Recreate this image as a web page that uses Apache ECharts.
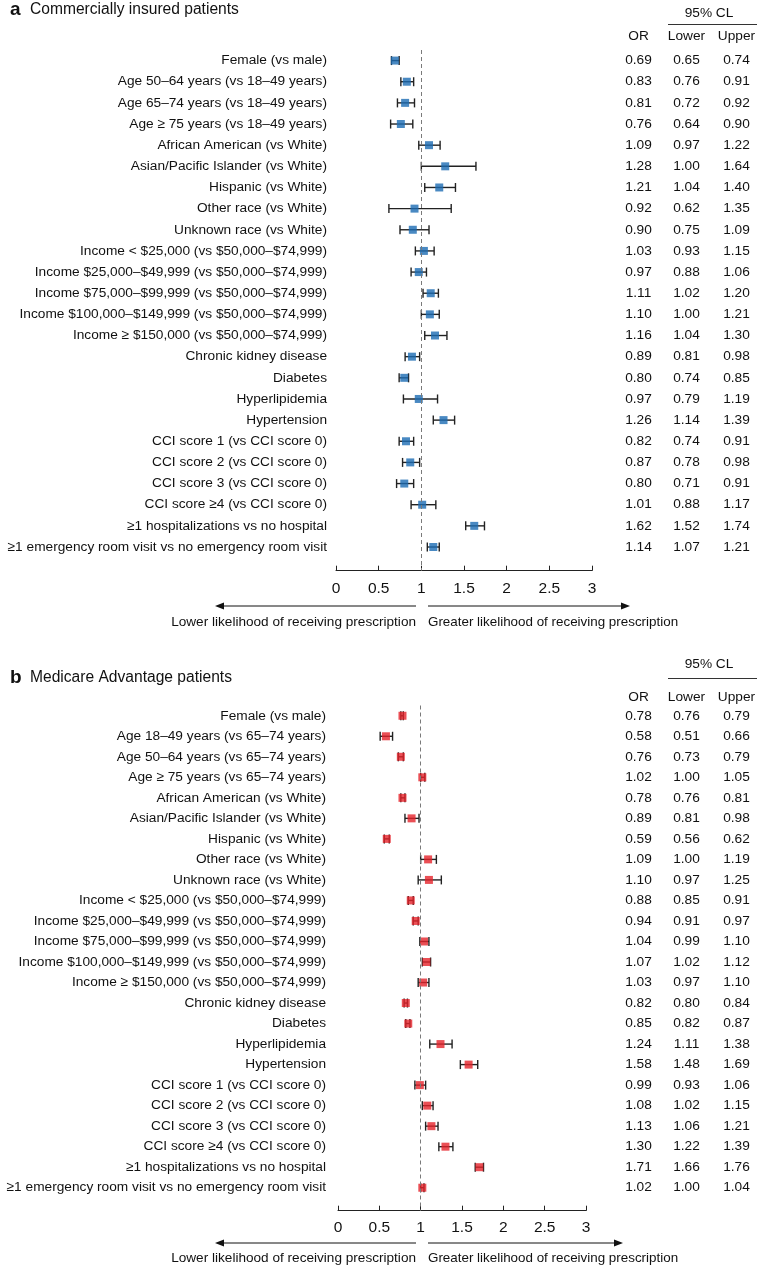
<!DOCTYPE html>
<html>
<head>
<meta charset="utf-8">
<script src="https://cdn.jsdelivr.net/npm/echarts@6/dist/echarts.min.js"></script>
<style>
html,body{margin:0;padding:0;background:#fff;}
#chart{width:758px;height:1270px;}
</style>
</head>
<body>
<div id="chart"></div>
<script>
// ---------- DATA ----------
var categoriesA = [
  'Female (vs male)',
  'Age 50\u201364 years (vs 18\u201349 years)',
  'Age 65\u201374 years (vs 18\u201349 years)',
  'Age \u2265 75 years (vs 18\u201349 years)',
  'African American (vs White)',
  'Asian/Pacific Islander (vs White)',
  'Hispanic (vs White)',
  'Other race (vs White)',
  'Unknown race (vs White)',
  'Income < $25,000 (vs $50,000\u2013$74,999)',
  'Income $25,000\u2013$49,999 (vs $50,000\u2013$74,999)',
  'Income $75,000\u2013$99,999 (vs $50,000\u2013$74,999)',
  'Income $100,000\u2013$149,999 (vs $50,000\u2013$74,999)',
  'Income \u2265 $150,000 (vs $50,000\u2013$74,999)',
  'Chronic kidney disease',
  'Diabetes',
  'Hyperlipidemia',
  'Hypertension',
  'CCI score 1 (vs CCI score 0)',
  'CCI score 2 (vs CCI score 0)',
  'CCI score 3 (vs CCI score 0)',
  'CCI score \u22654 (vs CCI score 0)',
  '\u22651 hospitalizations vs no hospital',
  '\u22651 emergency room visit vs no emergency room visit'
];
var orA    = [0.69,0.83,0.81,0.76,1.09,1.28,1.21,0.92,0.90,1.03,0.97,1.11,1.10,1.16,0.89,0.80,0.97,1.26,0.82,0.87,0.80,1.01,1.62,1.14];
var lowerA = [0.65,0.76,0.72,0.64,0.97,1.00,1.04,0.62,0.75,0.93,0.88,1.02,1.00,1.04,0.81,0.74,0.79,1.14,0.74,0.78,0.71,0.88,1.52,1.07];
var upperA = [0.74,0.91,0.92,0.90,1.22,1.64,1.40,1.35,1.09,1.15,1.06,1.20,1.21,1.30,0.98,0.85,1.19,1.39,0.91,0.98,0.91,1.17,1.74,1.21];

var categoriesB = [
  'Female (vs male)',
  'Age 18\u201349 years (vs 65\u201374 years)',
  'Age 50\u201364 years (vs 65\u201374 years)',
  'Age \u2265 75 years (vs 65\u201374 years)',
  'African American (vs White)',
  'Asian/Pacific Islander (vs White)',
  'Hispanic (vs White)',
  'Other race (vs White)',
  'Unknown race (vs White)',
  'Income < $25,000 (vs $50,000\u2013$74,999)',
  'Income $25,000\u2013$49,999 (vs $50,000\u2013$74,999)',
  'Income $75,000\u2013$99,999 (vs $50,000\u2013$74,999)',
  'Income $100,000\u2013$149,999 (vs $50,000\u2013$74,999)',
  'Income \u2265 $150,000 (vs $50,000\u2013$74,999)',
  'Chronic kidney disease',
  'Diabetes',
  'Hyperlipidemia',
  'Hypertension',
  'CCI score 1 (vs CCI score 0)',
  'CCI score 2 (vs CCI score 0)',
  'CCI score 3 (vs CCI score 0)',
  'CCI score \u22654 (vs CCI score 0)',
  '\u22651 hospitalizations vs no hospital',
  '\u22651 emergency room visit vs no emergency room visit'
];
var orB    = [0.78,0.58,0.76,1.02,0.78,0.89,0.59,1.09,1.10,0.88,0.94,1.04,1.07,1.03,0.82,0.85,1.24,1.58,0.99,1.08,1.13,1.30,1.71,1.02];
var lowerB = [0.76,0.51,0.73,1.00,0.76,0.81,0.56,1.00,0.97,0.85,0.91,0.99,1.02,0.97,0.80,0.82,1.11,1.48,0.93,1.02,1.06,1.22,1.66,1.00];
var upperB = [0.79,0.66,0.79,1.05,0.81,0.98,0.62,1.19,1.25,0.91,0.97,1.10,1.12,1.10,0.84,0.87,1.38,1.69,1.06,1.15,1.21,1.39,1.76,1.04];

var titleA = 'Commercially insured patients';
var titleB = 'Medicare Advantage patients';
var tableHeaders = ['OR', 'Lower', 'Upper'];
var clHeader = '95% CL';
var lowerLabel = 'Lower likelihood of receiving prescription';
var greaterLabel = 'Greater likelihood of receiving prescription';
var refValue = 1;

// ---------- STYLE / LAYOUT ----------
var FONT = '"Liberation Sans", Arial, Helvetica, sans-serif';
var FS = '13.7px ';
var TXT = '#111111';
var colX = [638.5, 686.5, 736.5];
var YMAX = 24.12;

function buildPanel(idx, cats, ors, los, his, color, top, height, left, right, labelMargin, rowLabelGap) {
  var grid = {left: left, right: right, top: top, height: height, containLabel: false};
  var xAxis = {
    gridIndex: idx, type: 'value', min: 0, max: 3, interval: 0.5, position: 'bottom',
    axisLine: {show: true, onZero: false, lineStyle: {color: '#222', width: 1}},
    axisTick: {show: true, inside: true, length: 5, lineStyle: {color: '#222'}},
    splitLine: {show: false},
    axisLabel: {color: TXT, fontSize: 15.5, fontFamily: FONT, margin: labelMargin}
  };
  var yAxis = {gridIndex: idx, type: 'value', inverse: true, min: -0.5, max: YMAX, show: false};

  var series = [];
  // error bars
  series.push({
    type: 'custom', xAxisIndex: idx, yAxisIndex: idx, silent: true, z: 2,
    data: cats.map(function (c, i) { return [los[i], his[i], i]; }),
    renderItem: function (params, api) {
      var p1 = api.coord([api.value(0), api.value(2)]);
      var p2 = api.coord([api.value(1), api.value(2)]);
      var h = 4.5;
      var st = {stroke: '#222', lineWidth: 1.4};
      return {type: 'group', children: [
        {type: 'line', shape: {x1: p1[0], y1: p1[1], x2: p2[0], y2: p2[1]}, style: st},
        {type: 'line', shape: {x1: p1[0], y1: p1[1] - h, x2: p1[0], y2: p1[1] + h}, style: st},
        {type: 'line', shape: {x1: p2[0], y1: p2[1] - h, x2: p2[0], y2: p2[1] + h}, style: st}
      ]};
    }
  });
  // OR markers + reference line
  series.push({
    type: 'scatter', xAxisIndex: idx, yAxisIndex: idx, silent: true, z: 3,
    symbol: 'rect', symbolSize: 8,
    itemStyle: {color: color},
    data: ors.map(function (v, i) { return [v, i]; }),
    markLine: {
      silent: true, symbol: ['none', 'none'], label: {show: false},
      lineStyle: {color: '#7a7a7a', type: [4, 3], width: 1},
      data: [{xAxis: refValue}]
    }
  });
  // row labels and table values
  series.push({
    type: 'custom', xAxisIndex: idx, yAxisIndex: idx, silent: true, z: 4,
    data: cats.map(function (c, i) { return [0, i]; }),
    renderItem: function (params, api) {
      var i = params.dataIndex;
      var p = api.coord([0, api.value(1)]);
      var ts = function (t, x, align) {
        return {type: 'text', style: {text: t, x: x, y: p[1], align: align, verticalAlign: 'middle',
          fill: TXT, font: FS + FONT}};
      };
      return {type: 'group', children: [
        ts(cats[i], p[0] - rowLabelGap, 'right'),
        ts(ors[i].toFixed(2), colX[0], 'center'),
        ts(los[i].toFixed(2), colX[1], 'center'),
        ts(his[i].toFixed(2), colX[2], 'center')
      ]};
    }
  });
  return {grid: grid, xAxis: xAxis, yAxis: yAxis, series: series};
}

var pA = buildPanel(0, categoriesA, orA, lowerA, upperA, '#1b6bb3', 50, 520.7, 336, 166, 10, 9);
var pB = buildPanel(1, categoriesB, orB, lowerB, upperB, '#e5232b', 705.5, 505.2, 338, 172, 9, 12);

function headerGraphics(titleLetter, titleText, titleY, clY, lineY, hdrY, arrowY, arrowLabelY, leftEnd, rightEnd) {
  var t = function (text, x, y, align, font) {
    return {type: 'text', x: x, y: y, silent: true,
      style: {text: text, align: align, verticalAlign: 'middle', fill: TXT, font: font}};
  };
  var g = [];
  g.push(t(titleLetter, 10, titleY, 'left', 'bold 19px ' + FONT));
  g.push(t(titleText, 30, titleY, 'left', '15.6px ' + FONT));
  g.push(t(clHeader, 709, clY, 'center', FS + FONT));
  g.push({type: 'line', silent: true, shape: {x1: 668, y1: lineY, x2: 757, y2: lineY}, style: {stroke: '#333', lineWidth: 1}});
  for (var k = 0; k < tableHeaders.length; k++) g.push(t(tableHeaders[k], colX[k], hdrY, 'center', FS + FONT));
  // arrows
  g.push({type: 'line', silent: true, shape: {x1: 416, y1: arrowY, x2: leftEnd + 6, y2: arrowY}, style: {stroke: '#111', lineWidth: 1}});
  g.push({type: 'polygon', silent: true, shape: {points: [[leftEnd, arrowY], [leftEnd + 9, arrowY - 3.5], [leftEnd + 9, arrowY + 3.5]]}, style: {fill: '#111'}});
  g.push({type: 'line', silent: true, shape: {x1: 428, y1: arrowY, x2: rightEnd - 6, y2: arrowY}, style: {stroke: '#111', lineWidth: 1}});
  g.push({type: 'polygon', silent: true, shape: {points: [[rightEnd, arrowY], [rightEnd - 9, arrowY - 3.5], [rightEnd - 9, arrowY + 3.5]]}, style: {fill: '#111'}});
  g.push(t(lowerLabel, 416, arrowLabelY, 'right', '13.6px ' + FONT));
  g.push(t(greaterLabel, 428, arrowLabelY, 'left', '13.4px ' + FONT));
  return g;
}

var graphics = [].concat(
  headerGraphics('a', titleA, 10, 13.5, 24.5, 36, 606, 622, 215, 630),
  headerGraphics('b', titleB, 678, 664, 678.5, 697.5, 1243, 1258, 215, 623)
);

var chart = echarts.init(document.getElementById('chart'), null, {renderer: 'canvas'});
chart.setOption({
  animation: false,
  backgroundColor: '#ffffff',
  grid: [pA.grid, pB.grid],
  xAxis: [pA.xAxis, pB.xAxis],
  yAxis: [pA.yAxis, pB.yAxis],
  series: pA.series.concat(pB.series),
  graphic: graphics
});
</script>
</body>
</html>
